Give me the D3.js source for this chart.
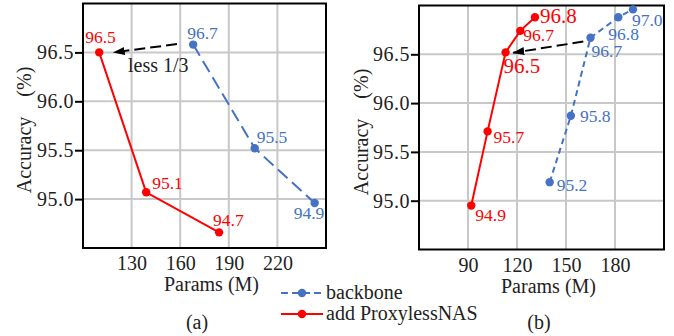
<!DOCTYPE html>
<html>
<head>
<meta charset="utf-8">
<script src="https://cdn.jsdelivr.net/npm/d3@7"></script>
<style>
  body { margin: 0; background: #fff; }
  svg, svg text { font-family: "Times New Roman", Times, "Liberation Serif", "DejaVu Serif", serif; }
</style>
</head>
<body>
<svg id="chart" width="674" height="336"></svg>
<script>
// panel (a) values
const aBackboneParams = [168, 206, 243];
const aBackboneAcc = [96.58, 95.52, 94.96];
const aBackboneLabels = ['96.7', '95.5', '94.9'];
const aNasParams = [110, 139, 184];
const aNasAcc = [96.5, 95.07, 94.66];
const aNasLabels = ['96.5', '95.1', '94.7'];
const aXTicks = [130, 160, 190, 220];

// panel (b) values
const bBackboneParams = [140, 153, 165, 182, 191];
const bBackboneAcc = [95.19, 95.87, 96.67, 96.88, 96.96];
const bBackboneLabels = ['95.2', '95.8', '96.7', '96.8', '97.0'];
const bNasParams = [92, 102, 113, 122, 131];
const bNasAcc = [94.95, 95.71, 96.52, 96.74, 96.88];
const bNasLabels = ['94.9', '95.7', '96.5', '96.7', '96.8'];
const bXTicks = [90, 120, 150, 180];

const yTicks = [95.0, 95.5, 96.0, 96.5];

const BLUE = '#4472c4';
const RED = '#ff0000';

const svg = d3.select('#chart');

// arrowhead
svg.append('defs').append('marker')
    .attr('id', 'head')
    .attr('viewBox', '0 0 12 8')
    .attr('refX', 11).attr('refY', 4)
    .attr('markerWidth', 6).attr('markerHeight', 4)
    .attr('markerUnits', 'strokeWidth')
    .attr('orient', 'auto')
  .append('path')
    .attr('d', 'M0,0 L12,4 L0,8 z')
    .attr('fill', '#000');

function drawPanel(p) {
    const g = svg.append('g');
    const x = d3.scaleLinear().domain(p.xDomain).range([p.left, p.right]);
    const y = d3.scaleLinear().domain([94.5, 97.0]).range([p.bottom, p.top]);

    // grid
    g.selectAll('.vgrid').data(p.xTicks).enter().append('line')
        .attr('x1', d => x(d)).attr('x2', d => x(d))
        .attr('y1', p.top).attr('y2', p.bottom)
        .attr('stroke', '#c8c8c8').attr('stroke-width', 2);
    g.selectAll('.hgrid').data(yTicks).enter().append('line')
        .attr('x1', p.left).attr('x2', p.right)
        .attr('y1', d => y(d)).attr('y2', d => y(d))
        .attr('stroke', '#c8c8c8').attr('stroke-width', 2);

    // y axis
    const ya = g.append('g')
        .attr('transform', `translate(${p.left},0)`)
        .call(d3.axisLeft(y).tickValues(yTicks).tickFormat(d3.format('.1f')).tickSize(8).tickPadding(1));
    ya.attr('font-family', null);
    ya.select('.domain').remove();
    ya.selectAll('line').attr('stroke', '#000').attr('stroke-width', 2);
    ya.selectAll('text').attr('font-size', 20).attr('fill', '#222').attr('letter-spacing', 0.5);

    // x axis labels
    const xa = g.append('g')
        .attr('transform', `translate(0,${p.bottom})`)
        .call(d3.axisBottom(x).tickValues(p.xTicks).tickSize(0).tickPadding(8));
    xa.attr('font-family', null);
    xa.select('.domain').remove();
    xa.selectAll('text').attr('font-size', 20).attr('fill', '#222');

    // frame
    g.append('rect')
        .attr('x', p.left).attr('y', p.top)
        .attr('width', p.right - p.left).attr('height', p.bottom - p.top)
        .attr('fill', 'none').attr('stroke', '#000').attr('stroke-width', 2);

    // axis titles
    g.append('text')
        .attr('x', (p.left + p.right) / 2 + p.xTitleShift).attr('y', p.bottom + 43)
        .attr('text-anchor', 'middle').attr('font-size', 20).attr('fill', '#222')
        .text('Params (M)');
    const yt = g.append('text')
        .attr('transform', `translate(${p.left - p.yTitleGap},${p.yTitleY}) rotate(-90)`)
        .attr('text-anchor', 'middle').attr('font-size', 20).attr('fill', '#222');
    yt.append('tspan').text('Accuracy');
    yt.append('tspan').attr('dx', 20).text('(%)');

    // caption
    g.append('text')
        .attr('x', p.captionX).attr('y', 329)
        .attr('text-anchor', 'middle').attr('font-size', 20).attr('fill', '#222')
        .text(p.caption);

    const line = d3.line().x(d => x(d[0])).y(d => y(d[1]));

    p.series.forEach(s => {
        const pts = s.params.map((v, i) => [v, s.acc[i]]);
        g.append('path')
            .datum(pts)
            .attr('d', line)
            .attr('fill', 'none')
            .attr('stroke', s.color)
            .attr('stroke-width', 2)
            .attr('stroke-dasharray', s.dash);
        g.selectAll(null).data(pts).enter().append('circle')
            .attr('cx', d => x(d[0])).attr('cy', d => y(d[1]))
            .attr('r', 4.2).attr('fill', s.color);
        g.selectAll(null).data(pts).enter().append('text')
            .attr('x', (d, i) => x(d[0]) + s.off[i][0])
            .attr('y', (d, i) => y(d[1]) + s.off[i][1])
            .attr('text-anchor', 'start')
            .attr('font-size', (d, i) => s.big && s.big[i] ? 21 : 17.5)
            .attr('fill', s.color)
            .text((d, i) => s.labels[i]);
    });

    // arrow
    g.append('line')
        .attr('x1', x(p.arrow[0][0])).attr('y1', y(p.arrow[0][1]))
        .attr('x2', x(p.arrow[1][0])).attr('y2', y(p.arrow[1][1]))
        .attr('stroke', '#000').attr('stroke-width', 2)
        .attr('stroke-dasharray', '11,5')
        .attr('marker-end', 'url(#head)');

    if (p.note) {
        g.append('text')
            .attr('x', p.note[0]).attr('y', p.note[1])
            .attr('font-size', 20).attr('fill', '#222')
            .text(p.note[2]);
    }
}

drawPanel({
    left: 83, right: 326, top: 3.5, bottom: 248,
    xDomain: [100, 250], xTicks: aXTicks,
    xTitleShift: 7, yTitleGap: 52, yTitleY: 130,
    caption: '(a)', captionX: 197,
    series: [
        { params: aBackboneParams, acc: aBackboneAcc, labels: aBackboneLabels, color: BLUE, dash: '13,6',
          off: [[-6, -6], [2, -5], [-21, 16]] },
        { params: aNasParams, acc: aNasAcc, labels: aNasLabels, color: RED, dash: null,
          off: [[-14, -9], [6, -3], [-6, -6]] }
    ],
    arrow: [[158, 96.585], [119, 96.5]],
    note: [128, 72, 'less 1/3']
});

drawPanel({
    left: 419, right: 664, top: 5.5, bottom: 249.5,
    xDomain: [60, 210], xTicks: bXTicks,
    xTitleShift: 7, yTitleGap: 51, yTitleY: 132,
    caption: '(b)', captionX: 539,
    series: [
        { params: bBackboneParams, acc: bBackboneAcc, labels: bBackboneLabels, color: BLUE, dash: '6,4',
          off: [[7, 9], [9, 6], [1, 19], [-10, 23], [-1, 17]] },
        { params: bNasParams, acc: bNasAcc, labels: bNasLabels, color: RED, dash: null,
          off: [[4, 15], [6, 12], [-2, 21], [3, 10], [5, 6]],
          big: [false, false, true, false, true] }
    ],
    arrow: [[160.6, 96.63], [117.7, 96.516]]
});

// legend
const legendItems = [
    { name: 'backbone', color: BLUE, dash: '7,4' },
    { name: 'add ProxylessNAS', color: RED, dash: null }
];
const lg = svg.append('g');
legendItems.forEach((it, i) => {
    const yy = 293 + i * 21;
    lg.append('line').attr('x1', 281).attr('x2', 323).attr('y1', yy).attr('y2', yy)
        .attr('stroke', it.color).attr('stroke-width', 2).attr('stroke-dasharray', it.dash);
    lg.append('circle').attr('cx', 302).attr('cy', yy).attr('r', 4.2).attr('fill', it.color);
    lg.append('text').attr('x', 326).attr('y', yy + 6).attr('font-size', 20).attr('fill', '#222')
        .text(it.name);
});
</script>
</body>
</html>
